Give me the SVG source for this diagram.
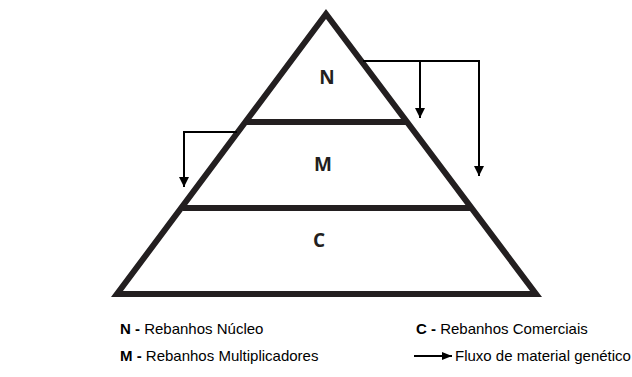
<svg xmlns="http://www.w3.org/2000/svg" width="632" height="377" viewBox="0 0 632 377">
<defs>
<style>
.tri{fill:none;stroke:#231f20;stroke-width:6;stroke-linejoin:miter}
.div{stroke:#231f20;stroke-width:6}
.con{fill:none;stroke:#000;stroke-width:2}
.lbl{font-family:"Open Sans","DejaVu Sans",sans-serif;font-weight:700;font-size:19px;fill:#231f20;text-anchor:middle}
.leg{font-family:"Liberation Sans",Arial,sans-serif;font-size:15px;fill:#000}
.b{font-weight:700}
</style>
<marker id="ah" viewBox="0 0 10 10" refX="10" refY="5" markerWidth="10" markerHeight="10" markerUnits="userSpaceOnUse" orient="auto">
<path d="M0,0 L10,5 L0,10 Z" fill="#000"/>
</marker>
<marker id="ahl" viewBox="0 0 10 8" refX="10" refY="4" markerWidth="10" markerHeight="8" markerUnits="userSpaceOnUse" orient="auto">
<path d="M0,0 L10,4 L0,8 Z" fill="#000"/>
</marker>
</defs>
<rect width="632" height="377" fill="#fff"/>
<g id="pyramid">
<path class="tri" d="M326,14 L117,294 L536,294 Z"/>
</g>
<g id="node-N">
<text class="lbl" x="327" y="84">N</text>
</g>
<g id="node-M">
<line class="div" x1="247" y1="122" x2="407" y2="122"/>
<text class="lbl" x="323" y="171">M</text>
</g>
<g id="node-C">
<line class="div" x1="183" y1="208" x2="471" y2="208"/>
<text class="lbl" x="319" y="247">C</text>
</g>
<g id="connectors">
<polyline class="con" points="363,61 479,61 479,176" marker-end="url(#ah)"/>
<polyline class="con" points="420,61 420,118" marker-end="url(#ah)"/>
<polyline class="con" points="237,132 184,132 184,187" marker-end="url(#ah)"/>
</g>
<g id="legend">
<text class="leg" x="120" y="334"><tspan class="b">N - </tspan>Rebanhos Núcleo</text>
<text class="leg" x="120" y="361"><tspan class="b">M - </tspan>Rebanhos Multiplicadores</text>
<text class="leg" x="416" y="334"><tspan class="b">C - </tspan>Rebanhos Comerciais</text>
<line class="con" x1="414" y1="356" x2="452" y2="356" marker-end="url(#ahl)"/>
<text class="leg" x="455" y="361">Fluxo de material genético</text>
</g>
</svg>
